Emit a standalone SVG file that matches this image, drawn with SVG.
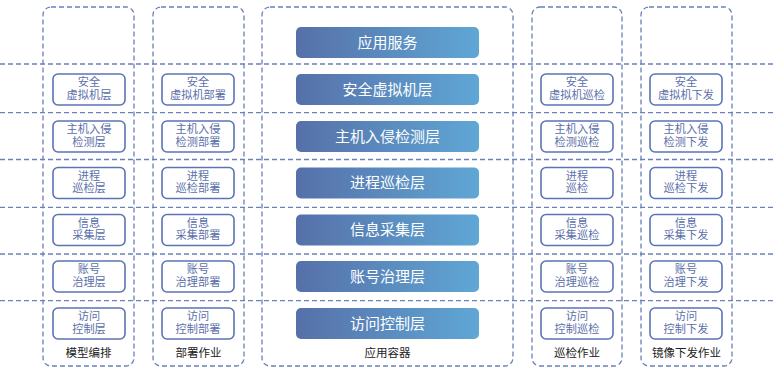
<svg xmlns="http://www.w3.org/2000/svg" width="773" height="369" viewBox="0 0 773 369">
<defs>
<linearGradient id="g" x1="0" y1="0" x2="1" y2="0">
<stop offset="0" stop-color="#5670a9"/>
<stop offset="1" stop-color="#5fa7d5"/>
</linearGradient>
<style>
.col{fill:none;stroke:#6b80bb;stroke-width:1.3;stroke-dasharray:5 3}
.hl{fill:none;stroke:#6b80bb;stroke-width:1.3;stroke-dasharray:5 3}
.sb{fill:#fff;stroke:#5b74b5;stroke-width:1.6}
.st{font-family:"Liberation Sans","Noto Sans CJK SC",sans-serif;font-size:11.2px;fill:#5b6faa;text-anchor:middle}
.gb{fill:url(#g)}
.gt{font-family:"Liberation Sans","Noto Sans CJK SC",sans-serif;font-size:15px;fill:#fff;text-anchor:middle}
.lb{font-family:"Liberation Sans","Noto Sans CJK SC",sans-serif;font-size:11.5px;fill:#222;text-anchor:middle}
</style>
</defs>
<rect width="773" height="369" fill="#fff"/>
<g id="connectors">
<line class="hl" x1="0" y1="64" x2="773" y2="64"/>
<line class="hl" x1="0" y1="112.7" x2="773" y2="112.7"/>
<line class="hl" x1="0" y1="159.5" x2="773" y2="159.5"/>
<line class="hl" x1="0" y1="207.3" x2="773" y2="207.3"/>
<line class="hl" x1="0" y1="254" x2="773" y2="254"/>
<line class="hl" x1="0" y1="300.7" x2="773" y2="300.7"/>
</g>
<g id="col-model">
<rect class="col" x="43" y="7" width="91" height="359" rx="8"/>
<text class="lb" x="88.5" y="357">模型编排</text>
</g>
<g id="col-deploy">
<rect class="col" x="153" y="7" width="91" height="359" rx="8"/>
<text class="lb" x="198.5" y="357">部署作业</text>
</g>
<g id="col-container">
<rect class="col" x="262" y="7" width="251" height="359" rx="8"/>
<text class="lb" x="387.5" y="357">应用容器</text>
</g>
<g id="col-inspect">
<rect class="col" x="532" y="7" width="90" height="359" rx="8"/>
<text class="lb" x="577" y="357">巡检作业</text>
</g>
<g id="col-image">
<rect class="col" x="641" y="7" width="91" height="359" rx="8"/>
<text class="lb" x="686.5" y="357">镜像下发作业</text>
</g>

<g id="m1"><rect class="sb" x="53" y="74" width="72" height="31" rx="5"/><text class="st" x="89" y="86.3">安全</text><text class="st" x="89" y="98.8">虚拟机层</text></g>
<g id="m2"><rect class="sb" x="53" y="121" width="72" height="31" rx="5"/><text class="st" x="89" y="133.3">主机入侵</text><text class="st" x="89" y="145.8">检测层</text></g>
<g id="m3"><rect class="sb" x="53" y="167.5" width="72" height="31" rx="5"/><text class="st" x="89" y="179.8">进程</text><text class="st" x="89" y="192.3">巡检层</text></g>
<g id="m4"><rect class="sb" x="53" y="214.5" width="72" height="31" rx="5"/><text class="st" x="89" y="226.8">信息</text><text class="st" x="89" y="239.3">采集层</text></g>
<g id="m5"><rect class="sb" x="53" y="261" width="72" height="31" rx="5"/><text class="st" x="89" y="273.3">账号</text><text class="st" x="89" y="285.8">治理层</text></g>
<g id="m6"><rect class="sb" x="53" y="308" width="72" height="31" rx="5"/><text class="st" x="89" y="320.3">访问</text><text class="st" x="89" y="332.8">控制层</text></g>

<g id="d1"><rect class="sb" x="162" y="74" width="72" height="31" rx="5"/><text class="st" x="198" y="86.3">安全</text><text class="st" x="198" y="98.8">虚拟机部署</text></g>
<g id="d2"><rect class="sb" x="162" y="121" width="72" height="31" rx="5"/><text class="st" x="198" y="133.3">主机入侵</text><text class="st" x="198" y="145.8">检测部署</text></g>
<g id="d3"><rect class="sb" x="162" y="167.5" width="72" height="31" rx="5"/><text class="st" x="198" y="179.8">进程</text><text class="st" x="198" y="192.3">巡检部署</text></g>
<g id="d4"><rect class="sb" x="162" y="214.5" width="72" height="31" rx="5"/><text class="st" x="198" y="226.8">信息</text><text class="st" x="198" y="239.3">采集部署</text></g>
<g id="d5"><rect class="sb" x="162" y="261" width="72" height="31" rx="5"/><text class="st" x="198" y="273.3">账号</text><text class="st" x="198" y="285.8">治理部署</text></g>
<g id="d6"><rect class="sb" x="162" y="308" width="72" height="31" rx="5"/><text class="st" x="198" y="320.3">访问</text><text class="st" x="198" y="332.8">控制部署</text></g>

<g id="c0"><rect class="gb" x="296" y="27" width="183" height="31" rx="5"/><text class="gt" x="387.5" y="47.5">应用服务</text></g>
<g id="c1"><rect class="gb" x="296" y="74" width="183" height="31" rx="5"/><text class="gt" x="387.5" y="94.5">安全虚拟机层</text></g>
<g id="c2"><rect class="gb" x="296" y="121" width="183" height="31" rx="5"/><text class="gt" x="387.5" y="141.5">主机入侵检测层</text></g>
<g id="c3"><rect class="gb" x="296" y="167.5" width="183" height="31" rx="5"/><text class="gt" x="387.5" y="188">进程巡检层</text></g>
<g id="c4"><rect class="gb" x="296" y="214.5" width="183" height="31" rx="5"/><text class="gt" x="387.5" y="235">信息采集层</text></g>
<g id="c5"><rect class="gb" x="296" y="261" width="183" height="31" rx="5"/><text class="gt" x="387.5" y="281.5">账号治理层</text></g>
<g id="c6"><rect class="gb" x="296" y="308" width="183" height="31" rx="5"/><text class="gt" x="387.5" y="328.5">访问控制层</text></g>

<g id="i1"><rect class="sb" x="541" y="74" width="72" height="31" rx="5"/><text class="st" x="577" y="86.3">安全</text><text class="st" x="577" y="98.8">虚拟机巡检</text></g>
<g id="i2"><rect class="sb" x="541" y="121" width="72" height="31" rx="5"/><text class="st" x="577" y="133.3">主机入侵</text><text class="st" x="577" y="145.8">检测巡检</text></g>
<g id="i3"><rect class="sb" x="541" y="167.5" width="72" height="31" rx="5"/><text class="st" x="577" y="179.8">进程</text><text class="st" x="577" y="192.3">巡检</text></g>
<g id="i4"><rect class="sb" x="541" y="214.5" width="72" height="31" rx="5"/><text class="st" x="577" y="226.8">信息</text><text class="st" x="577" y="239.3">采集巡检</text></g>
<g id="i5"><rect class="sb" x="541" y="261" width="72" height="31" rx="5"/><text class="st" x="577" y="273.3">账号</text><text class="st" x="577" y="285.8">治理巡检</text></g>
<g id="i6"><rect class="sb" x="541" y="308" width="72" height="31" rx="5"/><text class="st" x="577" y="320.3">访问</text><text class="st" x="577" y="332.8">控制巡检</text></g>

<g id="p1"><rect class="sb" x="650" y="74" width="72" height="31" rx="5"/><text class="st" x="686" y="86.3">安全</text><text class="st" x="686" y="98.8">虚拟机下发</text></g>
<g id="p2"><rect class="sb" x="650" y="121" width="72" height="31" rx="5"/><text class="st" x="686" y="133.3">主机入侵</text><text class="st" x="686" y="145.8">检测下发</text></g>
<g id="p3"><rect class="sb" x="650" y="167.5" width="72" height="31" rx="5"/><text class="st" x="686" y="179.8">进程</text><text class="st" x="686" y="192.3">巡检下发</text></g>
<g id="p4"><rect class="sb" x="650" y="214.5" width="72" height="31" rx="5"/><text class="st" x="686" y="226.8">信息</text><text class="st" x="686" y="239.3">采集下发</text></g>
<g id="p5"><rect class="sb" x="650" y="261" width="72" height="31" rx="5"/><text class="st" x="686" y="273.3">账号</text><text class="st" x="686" y="285.8">治理下发</text></g>
<g id="p6"><rect class="sb" x="650" y="308" width="72" height="31" rx="5"/><text class="st" x="686" y="320.3">访问</text><text class="st" x="686" y="332.8">控制下发</text></g>
</svg>
